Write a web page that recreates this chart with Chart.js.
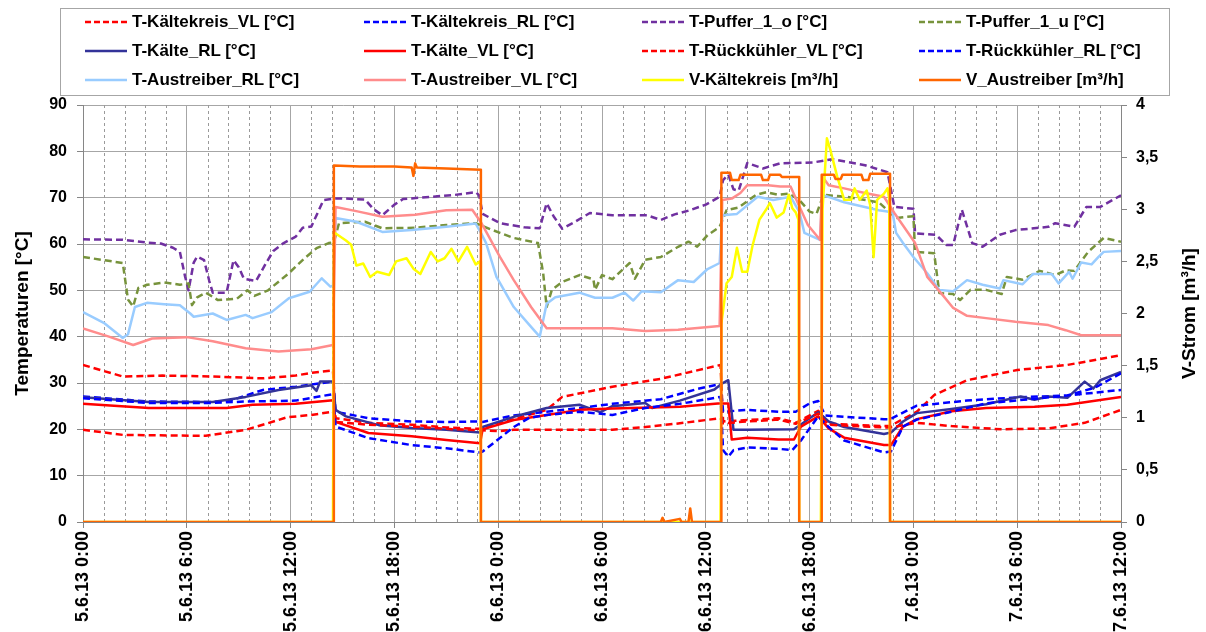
<!DOCTYPE html>
<html><head><meta charset="utf-8">
<script src="https://cdn.jsdelivr.net/npm/chart.js@4/dist/chart.umd.min.js"></script>
<style>
html,body{margin:0;padding:0;background:#fff;}
#wrap{position:relative;width:1206px;height:632px;overflow:hidden;background:#fff;}
#c{position:absolute;left:0;top:0;}
#legend{position:absolute;left:60px;top:8px;width:1110px;height:88px;border:1px solid #a6a6a6;box-sizing:border-box;font:bold 17px "Liberation Sans",Arial,sans-serif;color:#000;}
.item{position:absolute;height:20px;white-space:nowrap;}
.item svg{position:absolute;left:0;top:0;}
.item span{position:absolute;left:48px;top:0;line-height:20px;}
</style></head>
<body><div id="wrap"><canvas id="c" width="1206" height="632"></canvas><div id="legend"></div></div>
<script>
// ---------- data (hours since 5.6.13 0:00, values) ----------
const xTickLabels = ['5.6.13 0:00','5.6.13 6:00','5.6.13 12:00','5.6.13 18:00','6.6.13 0:00','6.6.13 6:00','6.6.13 12:00','6.6.13 18:00','7.6.13 0:00','7.6.13 6:00','7.6.13 12:00'];

const T_Kaeltekreis_VL = [[0,33.9],[2.3,31.4],[4.6,31.6],[7.5,31.4],[10.4,31],[12.3,31.6],[13.2,32.2],[14.45,32.7],[14.6,22.4],[16.5,21.4],[19,21],[21,20.4],[22.95,20.1],[23.1,20.3],[24.9,22.2],[26.8,24.2],[27.7,27],[30.6,29.2],[33.4,30.9],[36.85,33.9],[37.0,21.7],[38.4,22],[40.2,22.4],[41.2,21.4],[42.5,24],[43.1,21.2],[46.3,20.7],[46.65,20.7],[48.2,23.8],[49.2,27.4],[51.1,30.6],[54,32.8],[56.9,33.9],[60,36]];
const T_Kaeltekreis_RL = [[0,27.1],[3.8,26],[7.5,25.9],[8.6,26.3],[10.4,28.5],[12.3,29.2],[14.45,30.3],[14.6,23.8],[16.5,22.4],[19,21.7],[21,21.6],[22.95,21.7],[23.1,21.6],[24.9,23],[26.8,23.8],[28.7,24.6],[30.6,25.5],[33.4,26.5],[35.5,28.7],[36.85,29.8],[37.0,23.8],[38.4,24.2],[40.2,23.8],[41.2,23.8],[42.0,25.6],[42.5,26.1],[42.9,23],[44,22.7],[46.3,22.2],[46.65,22.2],[48.2,25.1],[51.1,26.2],[54,26.9],[56.9,27.3],[60,28.5]];
const T_Puffer_1_o = [[0,61],[2.3,60.9],[3.7,60.3],[4.5,60.1],[5.2,59.2],[5.6,58.3],[5.9,53],[6.1,50],[6.4,56],[6.6,57.3],[7.0,56.5],[7.3,52],[7.5,49.5],[8.3,49.5],[8.5,53],[8.7,56.5],[9.0,55],[9.3,52.5],[10.0,52],[10.6,56],[11.0,58.5],[11.6,60.2],[12.3,61.6],[12.7,63.5],[13.2,63.8],[13.5,66.2],[13.9,69.5],[14.6,69.8],[15.2,69.8],[16.3,69.6],[16.8,67.5],[17.3,66.2],[18.0,68.5],[18.5,69.7],[20.2,70.2],[21.5,70.6],[22.7,71.2],[22.9,70.5],[23.1,66.5],[24.1,64.5],[25.5,63.6],[26.4,63.4],[26.8,68.8],[27.2,66],[27.7,63.3],[28.3,64.5],[29.3,66.7],[30.6,66.2],[32.6,66.2],[33.4,65.2],[34.2,66.4],[35.0,67.2],[36.0,68.5],[36.8,70.2],[37.0,73.8],[37.3,75],[37.6,71.8],[37.9,71.5],[38.4,77.5],[39.3,76.3],[40.3,77.4],[42.2,77.6],[43.3,78.3],[45.2,77],[46.5,75.5],[46.9,68],[48.0,67.6],[48.1,62.3],[49.3,62],[49.9,59.8],[50.3,59.8],[50.8,67.4],[51.4,60.2],[52.0,59.4],[53.0,62],[53.9,63],[55.8,63.7],[56.2,64.5],[57.3,63.7],[58.0,68],[58.8,68],[60,70.5]];
const T_Puffer_1_u = [[0,57.2],[2.3,55.9],[2.6,48],[2.9,46.5],[3.2,50.5],[3.7,51.2],[4.7,51.7],[5.6,51.2],[6.1,51.5],[6.3,46.8],[6.6,48.5],[7.1,49.5],[7.8,47.9],[8.9,48.2],[9.5,50],[9.9,48.8],[10.7,50],[11.9,53.7],[12.8,56.9],[13.5,59.1],[14.2,60.2],[14.5,60.4],[14.8,64.5],[16.3,64.8],[17.3,63.4],[19.2,63.5],[21,64.1],[22.7,64.5],[23.0,64],[24.1,62.4],[24.9,61.3],[26.3,60.2],[26.6,53.7],[26.8,46.4],[27.1,50.1],[27.7,51.8],[28.7,53.3],[29.5,52.4],[29.6,50.1],[30,53.3],[30.6,52.4],[31.6,55.9],[31.9,52.5],[32.5,56.6],[33.4,57.2],[34.4,59.4],[35,60.5],[35.5,59.4],[36.1,61.9],[36.8,63.7],[37.2,67.3],[37.9,67.9],[38.9,70.6],[39.5,71.2],[40.2,70.6],[40.8,70.9],[41.4,69.5],[42.0,67],[42.4,66.5],[42.8,70.6],[44.1,70.2],[46.0,69],[47.0,65.6],[48.0,66],[48.1,58.3],[49.2,58],[49.5,49.4],[50.3,49.2],[50.7,47.9],[51.3,50.1],[52.2,50.1],[53.1,49.2],[53.4,52.9],[54.3,52.3],[55.3,54.2],[56.2,53.3],[56.8,54.3],[57.3,54.2],[58.1,58.3],[59,61.3],[60,60.5]];
const T_Kaelte_RL = [[0,26.9],[3.8,25.9],[7.5,25.9],[9.4,27],[11.3,28.5],[13.2,29.5],[13.5,28.3],[13.7,30.3],[14.45,30.3],[14.6,24.2],[15.2,22.8],[17.1,20.9],[19,20.3],[21,19.9],[22.95,19.3],[23.1,20.5],[24.9,22.7],[26.8,24.6],[28.7,25.3],[29.9,23.7],[30.6,25],[32.5,25.7],[32.9,24.6],[34.5,26.2],[36.5,28.6],[36.9,29.8],[37.3,30.6],[37.6,19.9],[38.4,19.9],[41.1,20],[41.6,21.3],[42.5,23.7],[43.1,21.7],[44,20.5],[46.3,19],[46.7,19.3],[47.4,21.7],[48.2,23.5],[50.2,24.4],[52.2,25.4],[54.2,27.1],[55,26.4],[55.8,27.1],[56.9,26.8],[57.9,30.3],[58.4,28.8],[58.8,30.6],[60,32.4]];
const T_Kaelte_VL = [[0,25.5],[3.8,24.6],[8.3,24.6],[9.8,25.3],[12.3,25.5],[14.45,26.3],[14.6,21.6],[16.5,19.2],[19,18.5],[21,17.7],[22.95,17],[23.1,20],[24.9,22],[26.8,23.1],[28.7,24.2],[30.6,24.5],[34.5,24.9],[36.7,25.6],[37.3,25.6],[37.5,17.8],[38.4,18.2],[40.2,17.8],[41.1,17.8],[41.5,20.6],[42.5,22.8],[43.1,20.2],[44,18.2],[46.3,16.6],[46.7,16.6],[47.4,20.6],[48.2,22.2],[50.2,23.9],[52.2,24.6],[55,24.9],[56.9,25.3],[60,27]];
const T_Rueckkuehler_VL = [[0,19.9],[2.3,18.8],[7.1,18.6],[9.4,19.9],[10.5,21.1],[11.8,22.6],[13.2,23.1],[14.45,23.8],[14.6,21.6],[16.5,21],[19,20.6],[21,20.1],[22.95,19.8],[23.1,19.8],[24,19.6],[24.9,19.9],[30.6,19.9],[32.5,20.5],[34.5,21.3],[36.85,22.4],[37.0,21.3],[38.4,21.7],[40.2,22.1],[41.2,21.2],[42.5,23.4],[43.1,21],[46.3,20.4],[46.65,20.4],[48.2,21.4],[50.2,20.7],[53.1,20],[55.8,20.2],[57.9,21.4],[60,24.2]];
const T_Rueckkuehler_RL = [[0,26.7],[3.8,25.7],[7.5,25.7],[9.4,26],[12.3,26.2],[14.45,27.6],[14.6,20.6],[16.5,18.1],[19,16.6],[21,15.9],[22.95,15],[23.1,15.2],[24.9,20.5],[25.8,22.5],[26.8,23.1],[28.7,23.8],[30.6,23.1],[32.5,24.6],[34.5,25.5],[36.85,27],[37.0,15.5],[37.3,14.1],[37.6,15.5],[38.4,16.1],[40.2,15.8],[41,15.5],[41.5,17.6],[42.5,22.8],[43.1,20.5],[44,17.6],[46.3,15],[46.7,15.2],[47.4,20.6],[48.2,22.1],[50.2,23.8],[52.2,25.6],[55,26.6],[56.9,27.3],[58.5,29],[60,32.1]];
const T_Austreiber_RL = [[0,45.3],[1.2,43],[2.3,39.7],[2.6,40.5],[3.0,46.4],[3.7,47.3],[4.7,47],[5.6,46.8],[6.2,45],[6.4,44.3],[7.5,45],[8.3,43.6],[9.4,44.7],[9.8,44],[10.9,45.3],[11.9,48.3],[13.1,49.7],[13.8,52.6],[14.3,50.8],[14.45,51],[14.6,65.6],[15.8,64.8],[17.3,62.6],[19,63],[21,63.7],[22.7,64.4],[23.0,62.4],[23.3,60.2],[23.9,52.9],[24.9,46.4],[25.9,42.1],[26.4,40],[26.8,47.1],[27.3,48.5],[28.7,49.5],[29.6,48.4],[30.6,48.4],[31.3,49.5],[31.8,47.8],[32.3,49.8],[33.4,49.6],[34.4,52.2],[35.3,51.8],[36.1,54.6],[36.8,55.9],[36.95,66.2],[37.8,66.5],[39.0,70.2],[39.9,69.5],[40.9,70.2],[41.4,67],[41.7,62.4],[42.6,60.9],[42.75,70.6],[44,69],[46,67.3],[46.5,67],[46.8,66.7],[47.0,62.4],[47.4,60.2],[48,57.2],[48.8,53.7],[49.5,50.1],[50.3,49.8],[51.1,52.2],[52,51.2],[53,50.4],[53.2,52.2],[54.3,51.3],[54.9,53.5],[56,53.5],[56.4,51.5],[57,54],[57.2,52.5],[57.7,56],[58.3,55.6],[58.7,57.2],[59,58.3],[60,58.5]];
const T_Austreiber_VL = [[0,41.8],[1.5,40],[2.9,38.2],[4.0,39.6],[6,39.9],[7.5,39],[9.4,37.5],[11.3,36.8],[13.2,37.3],[14.45,38.2],[14.6,68],[15.8,67.1],[17.3,65.9],[19.2,66.3],[21,67.3],[22.5,67.4],[23,64.7],[24.1,57.2],[24.9,52.2],[25.9,46.4],[26.8,41.8],[27.7,41.8],[30.6,41.8],[32.5,41.2],[34.4,41.5],[36.8,42.3],[36.95,69.5],[37.5,69.8],[38,71],[38.4,72.7],[39.6,72.7],[40.3,72.4],[40.9,72.4],[41.3,69],[41.9,64.1],[42.6,60.9],[42.75,74.5],[43.1,72.7],[44,72],[45.2,71],[46.3,70.2],[46.9,66.7],[47.4,64],[48.1,60.2],[48.8,52.9],[49.6,49.4],[50.3,46.2],[51.1,44.5],[52.2,44],[53.9,43.2],[55.8,42.5],[56.8,41.4],[57.7,40.3],[60,40.3]];
const V_Kaeltekreis = [[0,0],[14.45,0],[14.5,2.78],[15.2,2.7],[15.5,2.66],[15.8,2.46],[16.2,2.48],[16.6,2.35],[17.0,2.4],[17.7,2.37],[18.1,2.5],[18.7,2.53],[19.1,2.43],[19.5,2.38],[20.1,2.59],[20.5,2.5],[20.9,2.53],[21.3,2.62],[21.7,2.5],[22.2,2.64],[22.7,2.47],[22.95,2.5],[23.0,0],[36.85,0],[36.9,1.9],[37.2,2.29],[37.5,2.35],[37.8,2.63],[38.1,2.4],[38.4,2.4],[38.7,2.65],[39.1,2.9],[39.5,3.0],[39.7,3.06],[40.1,2.92],[40.5,2.97],[40.8,3.14],[41.0,3.01],[41.2,2.97],[41.35,2.9],[41.4,0],[42.65,0],[42.75,3.0],[43.0,3.68],[43.2,3.57],[43.6,3.31],[44.0,3.09],[44.4,3.09],[44.6,3.2],[44.9,3.09],[45.3,3.18],[45.5,3.04],[45.7,2.54],[45.9,3.09],[46.3,3.15],[46.5,3.2],[46.6,3.1],[46.65,0],[60,0]];
const V_Austreiber = [[0,0],[14.5,0],[14.5,3.42],[16,3.41],[18,3.41],[19.0,3.4],[19.1,3.32],[19.2,3.44],[19.3,3.4],[21,3.39],[23.0,3.38],[23.0,0],[33.4,0],[33.5,0.04],[33.6,0],[34.5,0.03],[34.6,0],[35.0,0],[35.1,0.13],[35.2,0],[36.9,0],[36.9,3.35],[37.4,3.35],[37.5,3.28],[37.9,3.28],[38.0,3.33],[39.2,3.33],[39.3,3.28],[39.6,3.28],[39.7,3.33],[40.3,3.33],[40.4,3.31],[41.4,3.31],[41.4,0],[42.7,0],[42.7,3.33],[43.4,3.33],[43.5,3.29],[43.8,3.29],[43.9,3.33],[45.0,3.33],[45.1,3.28],[45.4,3.28],[45.5,3.34],[46.65,3.34],[46.65,0],[60,0]];

// ---------- series styling ----------
const series = [
  {label:'T-Kältekreis_VL [°C]', data:T_Kaeltekreis_VL, color:'#FF0000', dash:true, axis:'y'},
  {label:'T-Kältekreis_RL [°C]', data:T_Kaeltekreis_RL, color:'#0000FF', dash:true, axis:'y'},
  {label:'T-Puffer_1_o [°C]', data:T_Puffer_1_o, color:'#7030A0', dash:true, axis:'y'},
  {label:'T-Puffer_1_u [°C]', data:T_Puffer_1_u, color:'#77933C', dash:true, axis:'y'},
  {label:'T-Kälte_RL [°C]', data:T_Kaelte_RL, color:'#333399', dash:false, axis:'y'},
  {label:'T-Kälte_VL [°C]', data:T_Kaelte_VL, color:'#FF0000', dash:false, axis:'y'},
  {label:'T-Rückkühler_VL [°C]', data:T_Rueckkuehler_VL, color:'#FF0000', dash:true, axis:'y'},
  {label:'T-Rückkühler_RL [°C]', data:T_Rueckkuehler_RL, color:'#0000FF', dash:true, axis:'y'},
  {label:'T-Austreiber_RL [°C]', data:T_Austreiber_RL, color:'#99CCFF', dash:false, axis:'y'},
  {label:'T-Austreiber_VL [°C]', data:T_Austreiber_VL, color:'#FF8C8C', dash:false, axis:'y'},
  {label:'V-Kältekreis [m³/h]', data:V_Kaeltekreis, color:'#FFFF00', dash:false, axis:'y1'},
  {label:'V_Austreiber [m³/h]', data:V_Austreiber, color:'#FF6600', dash:false, axis:'y1'}
];
const DASH = [7,4];

// ---------- legend (HTML, 4 columns x 3 rows) ----------
const legendCols = [23, 302, 580, 857];
const legendRows = [3, 32, 61];
const leg = document.getElementById('legend');
series.forEach((s,i)=>{
  const d = document.createElement('div');
  d.className='item';
  d.style.left = legendCols[i%4]+'px';
  d.style.top = legendRows[Math.floor(i/4)]+'px';
  d.innerHTML = '<svg width="44" height="20"><line x1="1" y1="10" x2="43" y2="10" stroke="'+s.color+'" stroke-width="2.5"'+(s.dash?' stroke-dasharray="6,3"':'')+'/></svg><span></span>';
  d.querySelector('span').textContent = s.label;
  leg.appendChild(d);
});

// ---------- chart ----------
const FONT = '"Liberation Sans", Arial, sans-serif';
const GRID = '#a6a6a6';
const AXIS = '#868686';

const minorGrid = {
  id:'minorGrid',
  beforeDatasetsDraw(chart){
    const {ctx, chartArea:a, scales:{x}} = chart;
    ctx.save();
    ctx.strokeStyle = '#9a9a9a'; ctx.lineWidth = 1; ctx.setLineDash([3,3]);
    for (let i=1;i<50;i++){
      if (i%5===0) continue;
      const px = Math.round(x.getPixelForValue(i*1.2))+0.5;
      ctx.beginPath(); ctx.moveTo(px,a.top); ctx.lineTo(px,a.bottom); ctx.stroke();
    }
    ctx.restore();
  }
};
const rightTitle = {
  id:'rightTitle',
  afterDraw(chart){
    const {ctx, chartArea:a} = chart;
    ctx.save();
    ctx.font = 'bold 19px '+FONT; ctx.fillStyle='#000';
    ctx.textAlign='center'; ctx.textBaseline='middle';
    ctx.translate(1190, (a.top+a.bottom)/2);
    ctx.rotate(-Math.PI/2);
    ctx.fillText('V-Strom [m³/h]', 0, 0);
    ctx.restore();
  }
};

new Chart(document.getElementById('c'), {
  type:'line',
  data:{datasets: series.map((s,i)=>({
    label:s.label,
    data:s.data.map(p=>({x:p[0], y:p[1]})),
    borderColor:s.color, backgroundColor:s.color,
    borderWidth:2.5, borderJoinStyle:'round',
    borderDash: s.dash ? DASH : [],
    pointRadius:0, fill:false, tension:0,
    yAxisID:s.axis, order: series.length - i
  }))},
  options:{
    responsive:false, animation:false, devicePixelRatio:1,
    layout:{padding:{top:105,left:0,right:0,bottom:0}},
    plugins:{legend:{display:false}, tooltip:{enabled:false}},
    scales:{
      x:{type:'linear', min:0, max:60,
        afterFit(s){ s.height = 110; },
        ticks:{stepSize:6, autoSkip:false, maxRotation:90, minRotation:90, padding:3,
          color:'#000', font:{family:FONT, size:18, weight:'bold'},
          callback:(v)=>xTickLabels[Math.round(v/6)]},
        grid:{color:GRID, lineWidth:1, tickLength:6, tickColor:AXIS},
        border:{color:AXIS, width:1}
      },
      y:{position:'left', min:0, max:90,
        afterFit(s){ s.width = 83; },
        ticks:{stepSize:10, padding:10, color:'#000', font:{family:FONT, size:16, weight:'bold'}},
        grid:{color:GRID, lineWidth:1, tickLength:6, tickColor:AXIS},
        border:{color:AXIS, width:1},
        title:{display:true, text:'Temperaturen [°C]', color:'#000', font:{family:FONT, size:19, weight:'bold'}, padding:{top:11,bottom:0}}
      },
      y1:{position:'right', min:0, max:4,
        afterFit(s){ s.width = 85; },
        ticks:{stepSize:0.5, padding:9, color:'#000', font:{family:FONT, size:16, weight:'bold'},
          callback:(v)=>String(v).replace('.',',')},
        grid:{drawOnChartArea:false, tickLength:6, tickColor:AXIS},
        border:{color:AXIS, width:1}
      }
    }
  },
  plugins:[minorGrid, rightTitle]
});
</script></body></html>
